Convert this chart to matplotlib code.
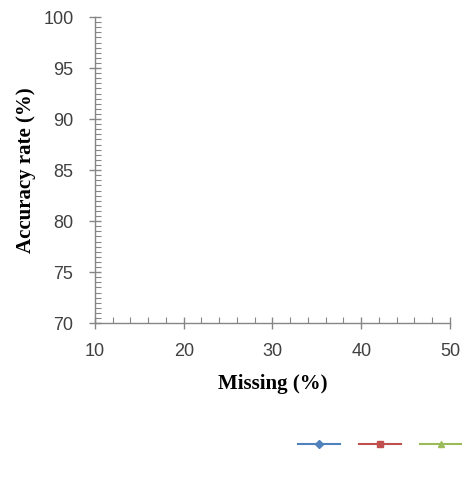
import matplotlib
matplotlib.use("Agg")
import matplotlib.pyplot as plt
from matplotlib.ticker import MultipleLocator

# data: the reference shows no plotted points inside the visible range
missing = []
series_a = []
series_b = []
series_c = []
series_labels = ["", "", ""]
colors = ["#4F81BD", "#C0504D", "#9BBB59"]
markers = ["D", "s", "^"]

x_ticks = [10, 20, 30, 40, 50]
y_ticks = [70, 75, 80, 85, 90, 95, 100]

fig = plt.figure(figsize=(4.62, 4.86), dpi=100)
ax = fig.add_axes([0.2056, 0.335, 0.7684, 0.630])

handles = []
for ys, c, m in zip([series_a, series_b, series_c], colors, markers):
    (h,) = ax.plot(missing, ys, color=c, marker=m, markersize=5 if m != "D" else 4,
                   linewidth=1.5)
    handles.append(h)

ax.set_xlim(10, 50)
ax.set_ylim(70, 100)
ax.set_xticks(x_ticks)
ax.set_yticks(y_ticks)
ax.xaxis.set_minor_locator(MultipleLocator(2))
ax.yaxis.set_minor_locator(MultipleLocator(0.5))

spine_col = "#868686"
for s in ["top", "right"]:
    ax.spines[s].set_visible(False)
for s in ["left", "bottom"]:
    ax.spines[s].set_color(spine_col)
    ax.spines[s].set_linewidth(1.0)

ax.tick_params(axis="both", which="major", direction="inout", length=9,
               width=1.0, color=spine_col, labelsize=13, labelcolor="#404040")
ax.tick_params(axis="x", which="major", pad=10)
ax.tick_params(axis="y", which="major", pad=11)
ax.tick_params(axis="both", which="minor", direction="in", length=4,
               width=0.8, color=spine_col)
for lab in ax.get_xticklabels() + ax.get_yticklabels():
    lab.set_family(["Liberation Sans", "DejaVu Sans"])

label_font = dict(family="Liberation Serif", fontweight="bold", fontsize=15)
ax.set_xlabel("Missing (%)", labelpad=10, **label_font)
ax.set_ylabel("Accuracy rate (%)", labelpad=5, **label_font)

fig.legend(handles, series_labels, loc="center left",
           bbox_to_anchor=(0.613, 0.085), ncol=3, frameon=False,
           handlelength=2.5, handletextpad=0.0, columnspacing=1.15,
           fontsize=12)

fig.savefig("out.png", dpi=100)
